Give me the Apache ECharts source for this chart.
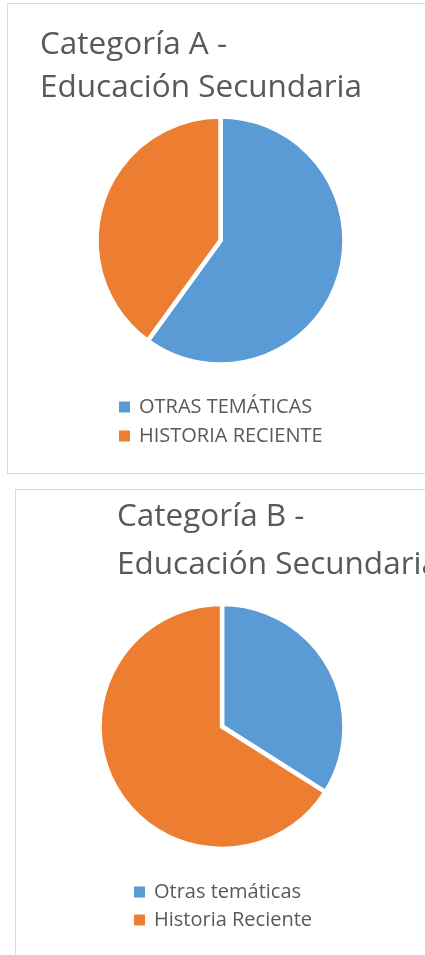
<!DOCTYPE html>
<html>
<head>
<meta charset="utf-8">
<script src="https://cdn.jsdelivr.net/npm/echarts@6/dist/echarts.min.js"></script>
<style>
  html, body { margin: 0; padding: 0; background: #fff; overflow: hidden; width: 425px; height: 955px; }
  .panel { position: absolute; border: 1px solid #d9d9d9; background: #fff; }
  #panel_a { left: 7px; top: 3px; width: 440px; height: 469px; }
  #panel_b { left: 15px; top: 489px; width: 440px; height: 500px; }
  .chart { width: 100%; height: 100%; }
</style>
</head>
<body>
<div class="panel" id="panel_a"><div class="chart" id="chart_a"></div></div>
<div class="panel" id="panel_b"><div class="chart" id="chart_b"></div></div>
<script>
// Datos
const namesA = ['OTRAS TEMÁTICAS', 'HISTORIA RECIENTE'];
const valuesA = [60, 40];
const namesB = ['Otras temáticas', 'Historia Reciente'];
const valuesB = [34, 66];
const colors = ['#5b9bd5', '#ed7d31'];

const fontFam = '"Open Sans", "Noto Sans", sans-serif';

function pieOption(title, titlePos, lineH, names, values, center, radius, legendPos, legendGap) {
    return {
        animation: false,
        color: colors,
        title: {
            text: title,
            left: titlePos[0],
            top: titlePos[1],
            padding: 0,
            textStyle: { fontFamily: fontFam, fontSize: 31.5, fontWeight: 'normal', color: '#595959', lineHeight: lineH }
        },
        legend: {
            orient: 'vertical',
            left: legendPos[0],
            top: legendPos[1],
            padding: 0,
            icon: 'rect',
            itemWidth: 13,
            itemHeight: 13,
            itemGap: legendGap,
            data: names,
            textStyle: { fontFamily: fontFam, fontSize: 20, color: '#595959', lineHeight: 20, padding: [0, 0, 0, 3] }
        },
        series: [{
            type: 'pie',
            center: center,
            radius: radius,
            startAngle: 90,
            clockwise: true,
            label: { show: false },
            labelLine: { show: false },
            emphasis: { disabled: true },
            itemStyle: { borderColor: '#fff', borderWidth: 4.5 },
            data: names.map((n, i) => ({ name: n, value: values[i] }))
        }]
    };
}

let chartA = echarts.init(document.getElementById('chart_a'));
chartA.setOption(pieOption('Categoría A -\nEducación Secundaria', [32, 19], 43.5,
    namesA, valuesA, [212.5, 236.5], 124, [109, 393], 9));

let chartB = echarts.init(document.getElementById('chart_b'));
chartB.setOption(pieOption('Categoría B -\nEducación Secundaria', [101, 3], 48,
    namesB, valuesB, [206, 236.5], 122.5, [116, 392], 8));
</script>
</body>
</html>
